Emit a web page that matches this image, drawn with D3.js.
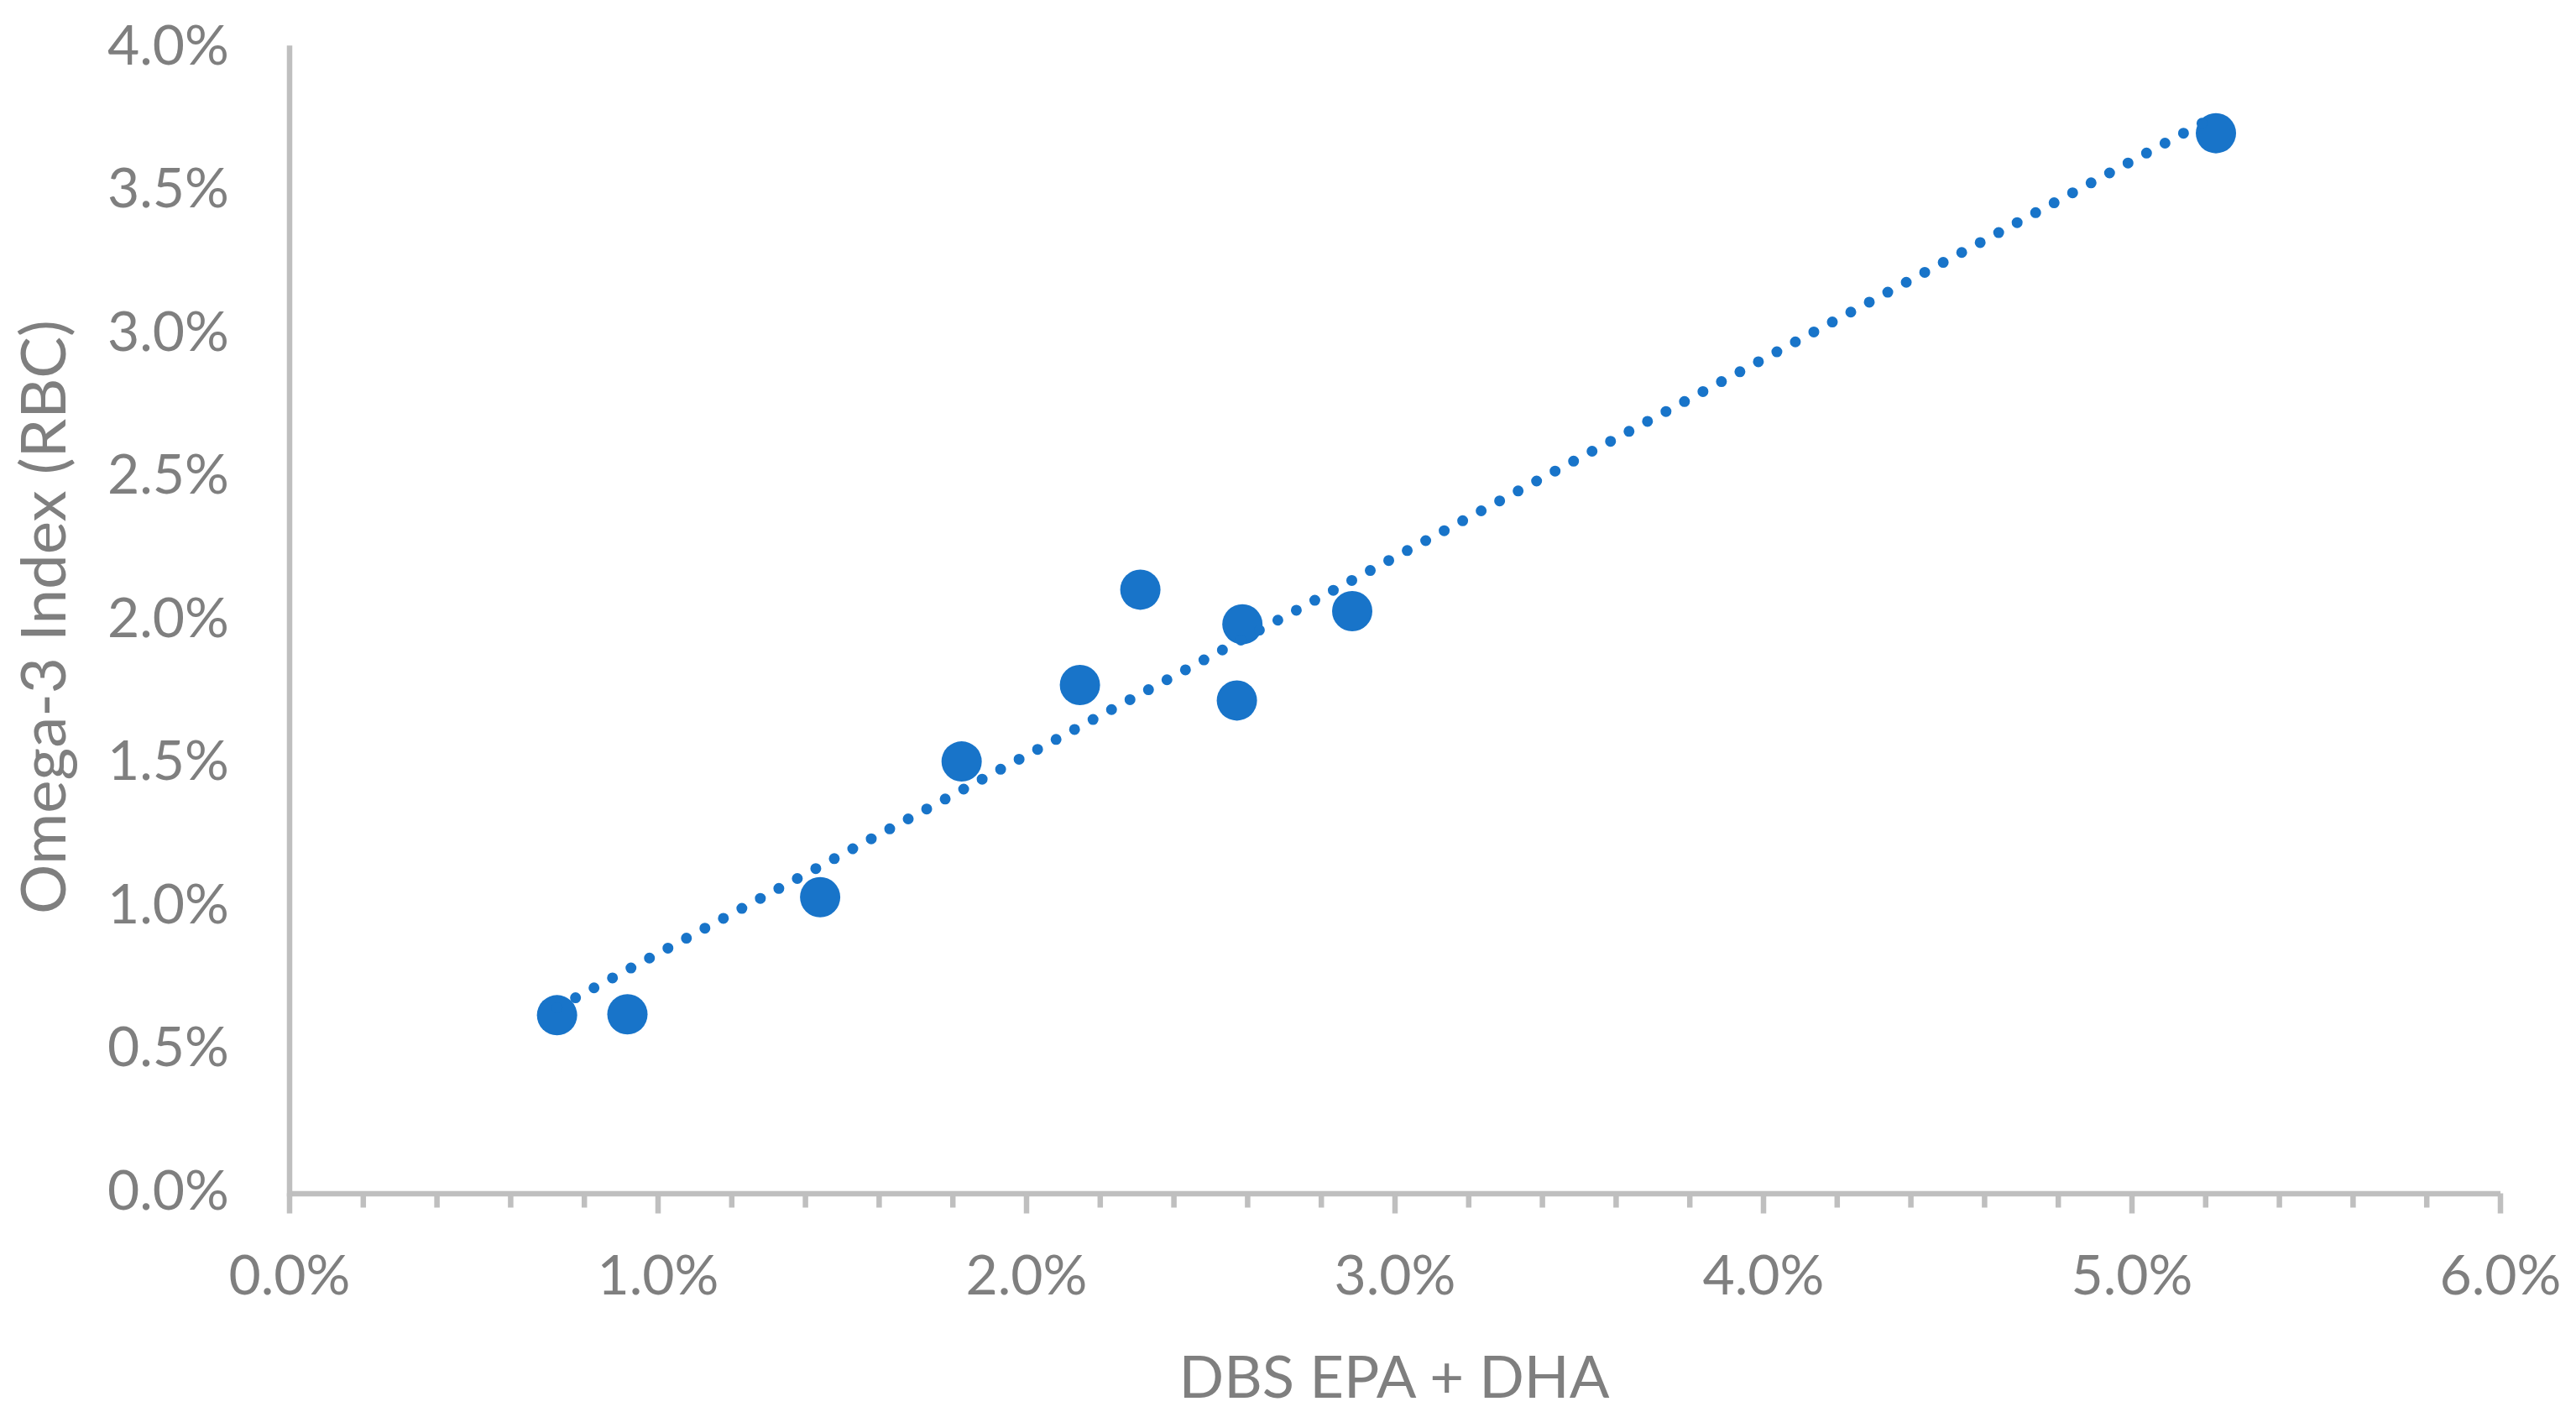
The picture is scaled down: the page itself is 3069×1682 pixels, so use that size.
<!DOCTYPE html>
<html><head><meta charset="utf-8">
<script src="https://cdn.jsdelivr.net/npm/d3@7"></script>
<style>html,body{margin:0;padding:0;background:#fff;} svg{display:block}</style>
</head><body>
<svg id="chart" width="3069" height="1682"></svg>
<script>
// ---- data (percent values) ----
const dbsEpaDha   = [0.727, 0.918, 1.441, 1.825, 2.146, 2.310, 2.587, 2.572, 2.885, 5.229];
const omega3Index = [0.622, 0.625, 1.034, 1.508, 1.775, 2.108, 1.987, 1.721, 2.033, 3.702];
const xTickValues = [0, 1, 2, 3, 4, 5, 6];
const xMinorTickValues = [0.2,0.4,0.6,0.8,1.2,1.4,1.6,1.8,2.2,2.4,2.6,2.8,3.2,3.4,3.6,3.8,4.2,4.4,4.6,4.8,5.2,5.4,5.6,5.8];
const yTickValues = [0, 0.5, 1, 1.5, 2, 2.5, 3, 3.5, 4];
const xTitle = "DBS EPA + DHA";
const yTitle = "Omega-3 Index (RBC)";

const W = 3069, H = 1682;
const plot = {left: 344.5, right: 2978.5, top: 57, bottom: 1421.5};
const FONT = "Lato, 'Open Sans', sans-serif";
const TEXT = "#7f7f7f", AXIS = "#bfbfbf", BLUE = "#1874c9";

const svg = d3.select("#chart");
const x = d3.scaleLinear().domain([0, 6]).range([plot.left, plot.right]);
const y = d3.scaleLinear().domain([0, 4]).range([plot.bottom, plot.top]);
const fmt = v => d3.format(".1f")(v) + "%";

// font sizing helper: size to reach a target width
function sizeFor(str, target) {
  const t = svg.append("text").attr("font-family", FONT).attr("font-size", 100).text(str);
  const w = t.node().getComputedTextLength();
  t.remove();
  return 100 * target / w;
}
const tickFS = sizeFor("4.0%", 145);
const xTitleFS = sizeFor(xTitle, 513);
const yTitleFS = sizeFor(yTitle, 708);
const titleFS = (xTitleFS + yTitleFS) / 2;

// ---- y axis ----
const gy = svg.append("g").attr("transform", `translate(${plot.left},0)`)
  .call(d3.axisLeft(y).tickValues(yTickValues).tickSize(0).tickSizeOuter(0).tickFormat(fmt));
gy.select(".domain").attr("stroke", AXIS).attr("stroke-width", 6.5).attr("stroke-linecap", "square");
gy.selectAll(".tick text").attr("x", -(plot.left - 273)).attr("dy", null).attr("y", 19)
  .attr("fill", TEXT).attr("font-family", FONT).attr("font-size", tickFS);

// ---- x axis minor ticks ----
const gxm = svg.append("g").attr("transform", `translate(0,${plot.bottom})`)
  .call(d3.axisBottom(x).tickValues(xMinorTickValues).tickSize(17).tickFormat(""));
gxm.select(".domain").remove();
gxm.selectAll(".tick line").attr("stroke", AXIS).attr("stroke-width", 6.5);

// ---- x axis major ----
const gx = svg.append("g").attr("transform", `translate(0,${plot.bottom})`)
  .call(d3.axisBottom(x).tickValues(xTickValues).tickSize(24).tickSizeOuter(0).tickFormat(fmt));
gx.select(".domain").attr("stroke", AXIS).attr("stroke-width", 6.5);
gx.selectAll(".tick line").attr("stroke", AXIS).attr("stroke-width", 6.5);
gx.selectAll(".tick text").attr("dy", null).attr("y", 1542 - plot.bottom)
  .attr("fill", TEXT).attr("font-family", FONT).attr("font-size", tickFS);
svg.selectAll(".tick text").attr("font-size", tickFS);
svg.selectAll("g").attr("font-size", tickFS).attr("font-family", FONT);

// ---- points ----
const pts = dbsEpaDha.map((d, i) => ({x: d, y: omega3Index[i]}));
svg.append("g").selectAll("circle").data(pts).join("circle")
  .attr("cx", d => x(d.x)).attr("cy", d => y(d.y)).attr("r", 24).attr("fill", BLUE);

// ---- linear trendline (least squares) ----
const mx = d3.mean(pts, d => d.x), my = d3.mean(pts, d => d.y);
const slope = d3.sum(pts, d => (d.x - mx) * (d.y - my)) / d3.sum(pts, d => (d.x - mx) ** 2);
const icpt = my - slope * mx;
const xr = d3.extent(pts, d => d.x);
const line = d3.line().x(d => x(d)).y(d => y(icpt + slope * d));
svg.append("path").attr("d", line(xr)).attr("fill", "none").attr("stroke", BLUE)
  .attr("stroke-width", 13).attr("stroke-linecap", "round").attr("stroke-dasharray", "0 25");

// ---- titles ----
svg.append("text").attr("x", 1661).attr("y", 1665).attr("text-anchor", "middle")
  .attr("fill", TEXT).attr("font-family", FONT).attr("font-size", xTitleFS).text(xTitle);
svg.append("text").attr("transform", "translate(78,735) rotate(-90)").attr("text-anchor", "middle")
  .attr("fill", TEXT).attr("font-family", FONT).attr("font-size", yTitleFS).text(yTitle);
</script>
</body></html>
